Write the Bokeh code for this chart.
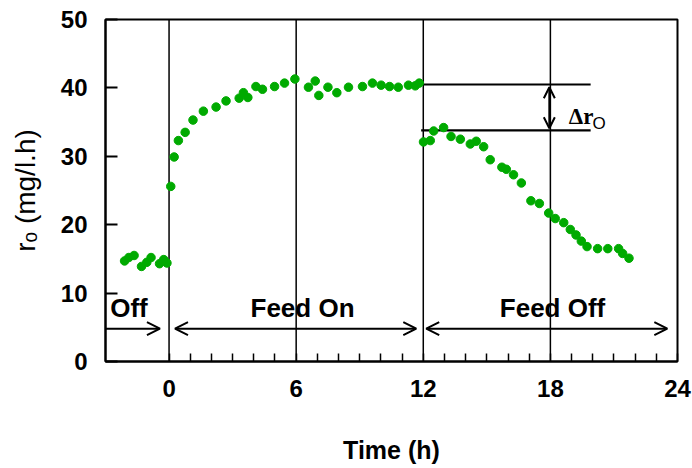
import math
from bokeh.plotting import figure
from bokeh.models import Range1d, FixedTicker, Label, Arrow, OpenHead
from bokeh.embed import file_html
from bokeh.resources import INLINE

# ---- data ----
t_off = [-2.1, -1.9, -1.65, -1.3, -1.05, -0.85, -0.45, -0.25, -0.1]
r_off = [14.7, 15.2, 15.5, 13.9, 14.5, 15.2, 14.3, 14.9, 14.4]

t_on = [0.08, 0.24, 0.44, 0.76, 1.13, 1.62, 2.22, 2.69, 3.31, 3.51, 3.72, 4.1, 4.41,
        4.98, 5.45, 5.94, 6.58, 6.9, 7.07, 7.5, 7.92, 8.47, 9.13, 9.6, 10.01, 10.41,
        10.82, 11.3, 11.62, 11.81]
r_on = [25.6, 29.9, 32.3, 33.5, 35.3, 36.6, 37.2, 38.1, 38.5, 39.3, 38.6, 40.2, 39.8,
        40.2, 40.7, 41.3, 40.1, 41.0, 38.9, 40.1, 39.3, 40.1, 40.2, 40.7, 40.4, 40.2,
        40.1, 40.4, 40.3, 40.7]

t_after = [12.01, 12.33, 12.49, 12.96, 13.31, 13.75, 14.22, 14.5, 14.85, 15.16, 15.71,
           15.92, 16.26, 16.63, 17.08, 17.48, 17.92, 18.23, 18.63, 18.94, 19.21, 19.46,
           19.73, 20.23, 20.71, 21.22, 21.41, 21.71]
r_after = [32.1, 32.3, 33.7, 34.2, 32.9, 32.5, 31.8, 32.2, 31.4, 29.5, 28.4, 28.1, 27.3,
           26.1, 23.5, 23.1, 21.7, 20.9, 20.3, 19.3, 18.5, 17.6, 16.8, 16.5, 16.5, 16.5,
           15.8, 15.1]

x_major = [0, 6, 12, 18, 24]
x_minor = [h for h in range(1, 24) if h % 6 != 0]
y_ticks = [0, 10, 20, 30, 40, 50]

phase_lines = [0, 6, 12, 18]

# level lines for delta r_O
level_y = [40.5, 33.8]
level_x0 = [12.0, 11.9]
level_x1 = [19.9, 19.9]
delta_x = 17.95

# phase arrows
arrow_y = 4.8
arrow_x0 = [-3.0, 0.28, 12.14]
arrow_x1 = [-0.43, 11.67, 23.52]
arrow_both = [False, True, True]
phase_names = ["Off", "Feed On", "Feed Off"]
phase_name_x = [-2.78, 6.3, 18.1]
phase_name_align = ["left", "center", "center"]
phase_name_y = 7.8

GREEN = "#00AA00"
SANS = "Liberation Sans"

p = figure(width=692, height=468, x_range=Range1d(-3, 24), y_range=Range1d(0, 50),
           output_backend="svg", toolbar_location=None,
           min_border_left=105, min_border_right=15, min_border_top=19, min_border_bottom=107)
p.title.visible = False
p.xgrid.visible = False
p.ygrid.visible = False
p.outline_line_color = "black"
p.outline_line_width = 2
p.background_fill_color = "white"
p.border_fill_color = "white"

xa = p.xaxis[0]
xa.ticker = FixedTicker(ticks=x_major, minor_ticks=x_minor)
xa.major_tick_in = 8
xa.major_tick_out = 0
xa.minor_tick_in = 8
xa.minor_tick_out = 0
xa.axis_line_width = 2
xa.major_tick_line_width = 1.5
xa.minor_tick_line_width = 1.5
xa.major_label_standoff = 18
xa.major_label_text_font = SANS
xa.major_label_text_font_style = "bold"
xa.major_label_text_font_size = "24px"
xa.major_label_text_color = "black"
xa.axis_label = "Time (h)"
xa.axis_label_text_font = SANS
xa.axis_label_text_font_style = "bold"
xa.axis_label_text_font_size = "25px"
xa.axis_label_text_color = "black"
xa.axis_label_standoff = 36

ya = p.yaxis[0]
ya.ticker = FixedTicker(ticks=y_ticks)
ya.major_tick_in = 12
ya.major_tick_out = 0
ya.minor_tick_in = 0
ya.minor_tick_out = 0
ya.axis_line_width = 2
ya.major_tick_line_width = 2
ya.major_label_standoff = 18
ya.major_label_text_font = SANS
ya.major_label_text_font_style = "bold"
ya.major_label_text_font_size = "24px"
ya.major_label_text_color = "black"
ya.axis_label = "rₒ (mg/l.h)"
ya.axis_label_text_font = SANS
ya.axis_label_text_font_style = "normal"
ya.axis_label_text_font_size = "28px"
ya.axis_label_text_color = "black"
ya.axis_label_standoff = 17

# phase vertical lines
p.segment(x0=phase_lines, x1=phase_lines, y0=[0] * len(phase_lines), y1=[50] * len(phase_lines),
          line_color="black", line_width=1.5)

# level lines
p.segment(x0=level_x0, x1=level_x1, y0=level_y, y1=level_y, line_color="black", line_width=2.2)

# data
for tx, ry in ((t_off, r_off), (t_on, r_on), (t_after, r_after)):
    p.scatter(tx, ry, size=8.5, color=GREEN, line_color=GREEN)

# delta arrow and label
p.add_layout(Arrow(start=OpenHead(size=11, line_width=2), end=OpenHead(size=11, line_width=2),
                   x_start=delta_x, x_end=delta_x, y_start=level_y[0] - 0.4, y_end=level_y[1] + 0.3,
                   line_width=2, line_color="black"))
p.add_layout(Label(x=19.45, y=35.8, text="Δr", text_font="Liberation Serif",
                   text_font_style="bold", text_font_size="23px", text_align="center",
                   text_baseline="middle", text_color="black"))
p.add_layout(Label(x=19.45, y=35.8, x_offset=18, y_offset=-7, text="O", text_font=SANS,
                   text_font_size="17px", text_align="center", text_baseline="middle",
                   text_color="black"))

# phase arrows & names
for x0, x1, both in zip(arrow_x0, arrow_x1, arrow_both):
    p.add_layout(Arrow(start=OpenHead(size=13, line_width=2) if both else None,
                       end=OpenHead(size=13, line_width=2),
                       x_start=x0, x_end=x1, y_start=arrow_y, y_end=arrow_y,
                       line_width=2, line_color="black"))
for name, nx, al in zip(phase_names, phase_name_x, phase_name_align):
    p.add_layout(Label(x=nx, y=phase_name_y, text=name, text_font=SANS, text_font_style="bold",
                       text_font_size="26px", text_align=al, text_baseline="middle",
                       text_color="black"))

open("out.html", "w").write(file_html(p, INLINE))
